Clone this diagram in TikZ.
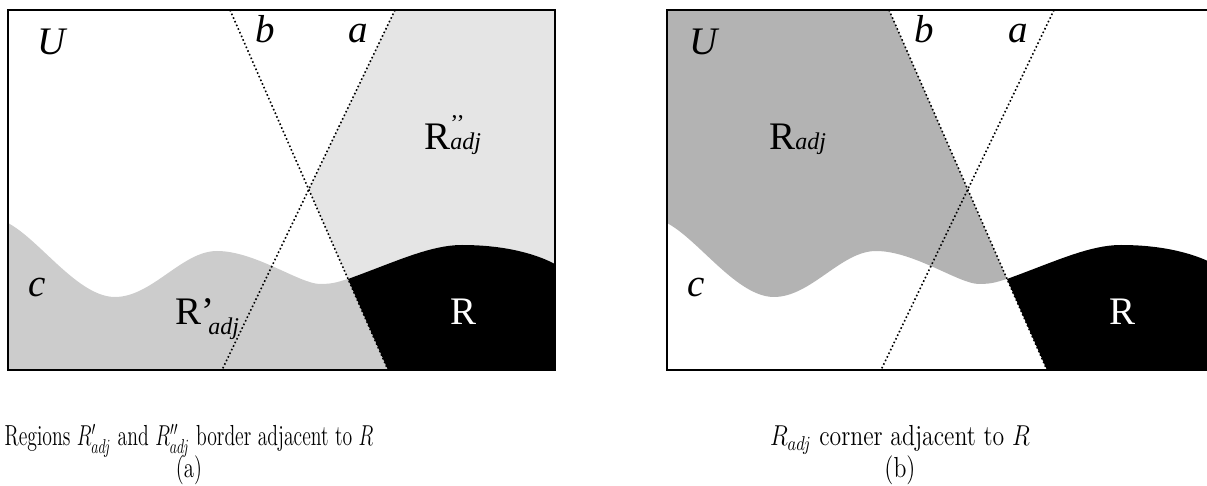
\documentclass[tikz,border=0pt]{standalone}
\usepackage{fontspec}
\newfontfamily\timesfont{Liberation Serif}
\newcommand{\adjtxt}{{\fontsize{12}{12}\selectfont\itshape adj}}
\definecolor{lightregion}{RGB}{229,229,229}
\definecolor{midregion}{RGB}{204,204,204}
\definecolor{darkregion}{RGB}{179,179,179}
\begin{document}
\begin{tikzpicture}[x=0.5pt, y=-0.5pt,
  panelframe/.style={draw=black, line width=1pt},
  guide/.style={line width=0.8pt, dash pattern=on 0.8pt off 1.2pt},
  lbl/.style={inner sep=0pt, anchor=base west, font=\timesfont\fontsize{19.5}{22}\selectfont},
  captext/.style={inner sep=0pt, anchor=base, font=\fontsize{14.5}{17}\selectfont}
]
\useasboundingbox (0,0) rectangle (1207,486);

% panel (a)
\coordinate (bTop) at (230,10);
\coordinate (bBot) at (388,370);
\coordinate (aTop) at (395,10);
\coordinate (aBot) at (222,370);
\coordinate (corner) at (348,279);
\coordinate (cross) at (intersection of bTop--bBot and aTop--aBot);
\fill[lightregion] (aTop) -- (cross) -- (corner)
  .. controls (395,262) and (430,245) .. (462,245)
  .. controls (500,245) and (532,252) .. (555,264) -- (555,10) -- cycle;
\fill[midregion] (8,223) .. controls (40,240) and (78,297) .. (115,297)
  .. controls (152,297) and (182,251) .. (217,251)
  .. controls (255,251) and (300,284) .. (320,284)
  .. controls (335,284) and (340,281) .. (corner) -- (bBot) -- (8,370) -- cycle;
\fill[black] (corner) .. controls (395,262) and (430,245) .. (462,245)
  .. controls (500,245) and (532,252) .. (555,264) -- (555,370) -- (bBot) -- cycle;
\draw[guide] (bTop) -- (bBot);
\draw[guide] (aTop) -- (aBot);
\draw[panelframe] (8,10) rectangle (555,370);

\node[lbl] (uA) at (37,55) {\itshape U};
\node[lbl] (bA) at (255,43) {\itshape b};
\node[lbl] (aA) at (348,43) {\itshape a};
\node[lbl] (cA) at (28,297) {\itshape c};
\node[lbl] (rppA) at (424,150) {R\rlap{\raisebox{9pt}{\fontsize{12}{12}\selectfont ’’}}\adjtxt};
\node[lbl] (rpA) at (175,325) {R’\kern-3pt\raisebox{-5pt}{\adjtxt}};
\node[lbl, text=white] (rA) at (450,325) {R};

\node[captext] (capA) at (189,446) {\scalebox{0.68}[1]{Regions $R'_{adj}$ and $R''_{adj}$ border adjacent to $R$}};
\node[captext] (subA) at (189,478) {\scalebox{0.72}[1]{(a)}};

% panel (b)
\begin{scope}[xshift=329.5pt]
\coordinate (bTop2) at (230,10);
\coordinate (bBot2) at (388,370);
\coordinate (aTop2) at (395,10);
\coordinate (aBot2) at (222,370);
\coordinate (corner2) at (348,279);
\fill[darkregion] (8,10) -- (8,223) .. controls (40,240) and (78,297) .. (115,297)
  .. controls (152,297) and (182,251) .. (217,251)
  .. controls (255,251) and (300,284) .. (320,284)
  .. controls (335,284) and (340,281) .. (corner2) -- (bTop2) -- cycle;
\fill[black] (corner2) .. controls (395,262) and (430,245) .. (462,245)
  .. controls (500,245) and (532,252) .. (555,264) -- (555,370) -- (bBot2) -- cycle;
\draw[guide] (bTop2) -- (bBot2);
\draw[guide] (aTop2) -- (aBot2);
\draw[panelframe] (8,10) rectangle (555,370);

\node[lbl] (uB) at (30,55) {\itshape U};
\node[lbl] (bB) at (255,43) {\itshape b};
\node[lbl] (aB) at (349,43) {\itshape a};
\node[lbl] (cB) at (28,297) {\itshape c};
\node[lbl] (rB) at (110,150) {R\adjtxt};
\node[lbl, text=white] (rrB) at (450,325) {R};
\end{scope}

\node[captext] (capB) at (900,446) {\scalebox{0.82}[1]{$R_{adj}$ corner adjacent to $R$}};
\node[captext] (subB) at (900,478) {\scalebox{0.82}[1]{(b)}};
\end{tikzpicture}
\end{document}
